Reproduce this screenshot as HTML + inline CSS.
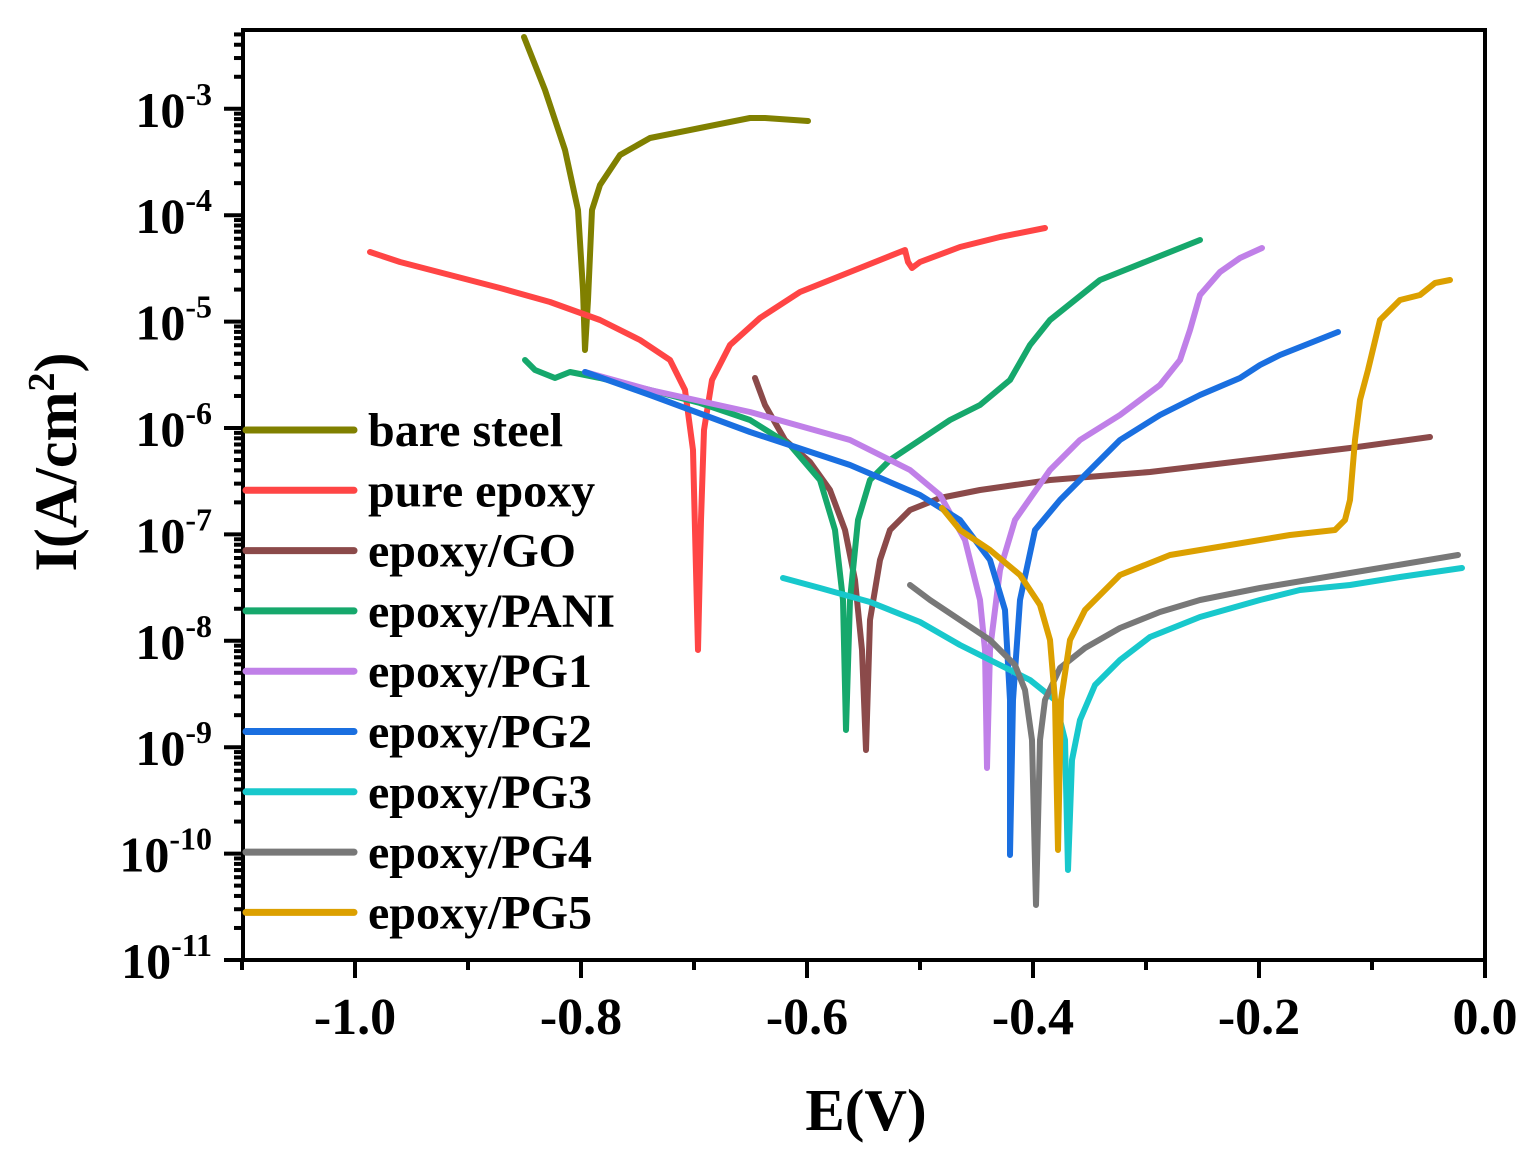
<!DOCTYPE html>
<html><head><meta charset="utf-8"><style>
html,body{margin:0;padding:0;background:#fff}
svg text{font-family:"Liberation Serif",serif;font-weight:bold;fill:#000}
</style></head><body>
<svg id="s" width="1535" height="1157" viewBox="0 0 1535 1157" xmlns="http://www.w3.org/2000/svg">
<rect x="243" y="30" width="1242" height="930" fill="none" stroke="#000" stroke-width="4"/>
<g id="ticks" stroke="#000" stroke-width="4"></g>
<g id="curves" fill="none" stroke-width="6" stroke-linejoin="round" stroke-linecap="round"></g>
<g id="labels"></g>
<text x="866" y="1130" font-size="59" text-anchor="middle">E(V)</text>
<text transform="translate(76,462) rotate(-90)" font-size="60" text-anchor="middle">I(A/cm<tspan dy="-22" font-size="38">2</tspan><tspan dy="22">)</tspan></text>
</svg>
<script>
const NS="http://www.w3.org/2000/svg";
function el(p,t,a,txt){const e=document.createElementNS(NS,t);for(const k in a)e.setAttribute(k,a[k]);if(txt!==undefined)e.textContent=txt;p.appendChild(e);return e;}
const T=document.getElementById('ticks'),L=document.getElementById('labels'),C=document.getElementById('curves');
const y0=960,dec=106.4;
function yv(ex){return y0-(ex+11)*dec;}
for(let e=-11;e<=-3;e++){
 const y=yv(e);
 el(T,'line',{x1:224,y1:y,x2:243,y2:y});
 const t=el(L,'text',{x:212,y:y+18,'font-size':50,'text-anchor':'end'});
 t.innerHTML='10<tspan dy="-22" font-size="32">'+e+'</tspan>';
}
for(let e=-11;e<=-3;e++){for(let m=2;m<=9;m++){const y=yv(e+Math.log10(m));if(y<32)continue;el(T,'line',{x1:234,y1:y,x2:243,y2:y});}}
for(let i=0;i<=11;i++){const v=-1.1+i*0.1;const x=1485+v*1130;const major=(i%2==1);
 el(T,'line',{x1:x,y1:960,x2:x,y2:major?978:970});
 if(major){el(L,'text',{x:x,y:1034,'font-size':52,'text-anchor':'middle'},v.toFixed(1).replace('-0.0','0.0'));}
}
const series=[
['bare steel','#808000',[[524,37],[545,90],[565,150],[578,210],[583,290],[585,350],[588,300],[592,210],[600,185],[620,155],[650,138],[700,128],[750,118],[765,118],[808,121]]],
['pure epoxy','#ff4545',[[370,252],[400,262],[450,275],[500,288],[550,302],[600,320],[640,340],[670,360],[685,390],[693,450],[698,650],[701,520],[704,430],[712,380],[730,345],[760,318],[800,292],[850,272],[905,250],[908,262],[912,268],[920,262],[960,247],[1000,237],[1045,228]]],
['epoxy/GO','#8b4a4a',[[755,378],[765,405],[785,440],[810,462],[830,490],[845,530],[855,580],[862,650],[866,750],[870,620],[880,560],[890,530],[910,510],[940,498],[980,490],[1050,480],[1150,472],[1250,460],[1350,448],[1430,437]]],
['epoxy/PANI','#16a86c',[[525,360],[535,370],[555,378],[570,372],[600,378],[650,390],[700,403],[750,420],[790,445],[820,480],[835,530],[843,600],[846,730],[850,600],[858,520],[870,480],[890,460],[920,440],[950,420],[980,405],[1010,380],[1030,345],[1050,320],[1075,300],[1100,280],[1150,260],[1200,240]]],
['epoxy/PG1','#c080e8',[[585,372],[650,390],[750,412],[850,440],[910,470],[940,495],[965,540],[980,600],[985,650],[987,768],[990,650],[1000,570],[1015,520],[1050,470],[1080,440],[1120,415],[1160,385],[1180,360],[1190,330],[1200,295],[1220,272],[1240,258],[1262,248]]],
['epoxy/PG2','#1a6fe0',[[585,372],[650,395],[750,432],[850,465],[920,495],[960,520],[990,560],[1005,610],[1010,700],[1010,855],[1013,700],[1020,600],[1035,530],[1060,500],[1090,470],[1120,440],[1160,415],[1200,395],[1240,378],[1260,365],[1280,355],[1338,332]]],
['epoxy/PG3','#18c8cc',[[783,578],[820,588],[870,602],[920,622],[960,645],[1000,665],[1030,680],[1055,700],[1065,740],[1068,870],[1072,760],[1080,720],[1095,685],[1120,660],[1150,637],[1200,617],[1260,600],[1300,590],[1350,585],[1400,577],[1462,568]]],
['epoxy/PG4','#787878',[[910,585],[930,600],[960,620],[990,640],[1015,665],[1025,690],[1032,740],[1036,905],[1040,740],[1045,700],[1060,668],[1085,648],[1120,628],[1160,612],[1200,600],[1260,588],[1320,578],[1380,568],[1458,555]]],
['epoxy/PG5','#dca000',[[942,508],[960,530],[990,550],[1020,575],[1040,605],[1050,640],[1055,700],[1058,850],[1061,700],[1070,640],[1085,610],[1120,575],[1170,555],[1230,545],[1290,535],[1335,530],[1345,520],[1350,500],[1355,440],[1360,400],[1368,370],[1380,320],[1400,300],[1420,295],[1435,283],[1450,280]]]
];
series.forEach((s,i)=>{
 el(C,'polyline',{points:s[2].map(p=>p.join(',')).join(' '),stroke:s[1]});
 const y=430+i*60.3;
 el(C,'line',{x1:246,y1:y,x2:354,y2:y,stroke:s[1],'stroke-width':7});
 el(L,'text',{x:368,y:y+16,'font-size':48},s[0]);
});
</script>
</body></html>
